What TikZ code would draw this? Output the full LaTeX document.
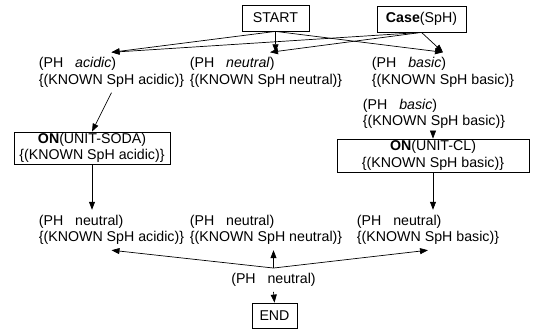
\documentclass[tikz,border=0pt]{standalone}
\usepackage{fontspec}
\setmainfont{Liberation Sans}
\usetikzlibrary{arrows.meta}
\tikzset{
  box/.style={draw, line width=0.8pt, inner sep=0pt, align=center},
  state/.style={align=left, inner sep=5pt},
}
\begin{document}
\begin{tikzpicture}[x=1pt, y=-1pt, >={Triangle[length=8pt,width=6pt]}, line width=0.7pt,
    font=\fontsize{14.2}{16.5}\selectfont]
    \useasboundingbox (0,0) rectangle (539,334);
    % top boxes
    \node[box, minimum width=67pt, minimum height=26pt] (start) at (275.5,18) {START};
    \node[box, minimum width=89pt, minimum height=26pt] (case) at (421.5,19) {\textbf{Case}(SpH)};
    % first row of states
    \node[state] (acidic) at (111.5,72.5) {(PH\ \ \ \textit{acidic})\\\{(KNOWN SpH acidic)\}};
    \node[state] (neutral) at (266,72.5) {(PH\ \ \ \textit{neutral})\\\{(KNOWN SpH neutral)\}};
    \node[state] (basic) at (443,72.5) {(PH\ \ \ \textit{basic})\\\{(KNOWN SpH basic)\}};
    \node[state] (basictwo) at (434,114) {(PH\ \ \ \textit{basic})\\\{(KNOWN SpH basic)\}};
    % operators
    \node[box, minimum width=156pt, minimum height=32pt] (soda) at (92,148) {\textbf{ON}(UNIT-SODA)\\\{(KNOWN SpH acidic)\}};
    \node[box, minimum width=192pt, minimum height=33pt] (cl) at (433,155.5) {\textbf{ON}(UNIT-CL)\\\{(KNOWN SpH basic)\}};
    % second row of states
    \node[state] (acidicend) at (111.5,230) {(PH\ \ \ neutral)\\\{(KNOWN SpH acidic)\}};
    \node[state] (neutralend) at (266,230) {(PH\ \ \ neutral)\\\{(KNOWN SpH neutral)\}};
    \node[state] (basicend) at (428,230) {(PH\ \ \ neutral)\\\{(KNOWN SpH basic)\}};
    \node[state] (goal) at (273.5,280) {(PH\ \ \ neutral)};
    \node[box, minimum width=45pt, minimum height=25pt] (end) at (274.5,315.5) {END};
    % arrows
    \draw[->] (start.south) -- (acidic.north);
    \draw[->] (start.south) -- (start.south |- neutral.north);
    \draw[->] (start.south) -- (basic.north);
    \draw[->] (case.south) -- (acidic.north);
    \draw[->] (case.south) -- ([xshift=4pt]neutral.north);
    \draw[->] (case.south) -- (basic.north);
    \draw[->] (acidic.south) -- (soda.north);
    \draw[->] (soda.south) -- (soda.south |- acidicend.north);
    \draw[->] (cl.north |- basictwo.south) -- (cl.north);
    \draw[->] (cl.south) -- (cl.south |- basicend.north);
    \draw[->] (goal.north) -- (acidicend.south);
    \draw[->] (goal.north) -- (goal.north |- neutralend.south);
    \draw[->] (goal.north) -- (basicend.south);
    \draw[->] (goal.south) -- (end.north);
\end{tikzpicture}
\end{document}
